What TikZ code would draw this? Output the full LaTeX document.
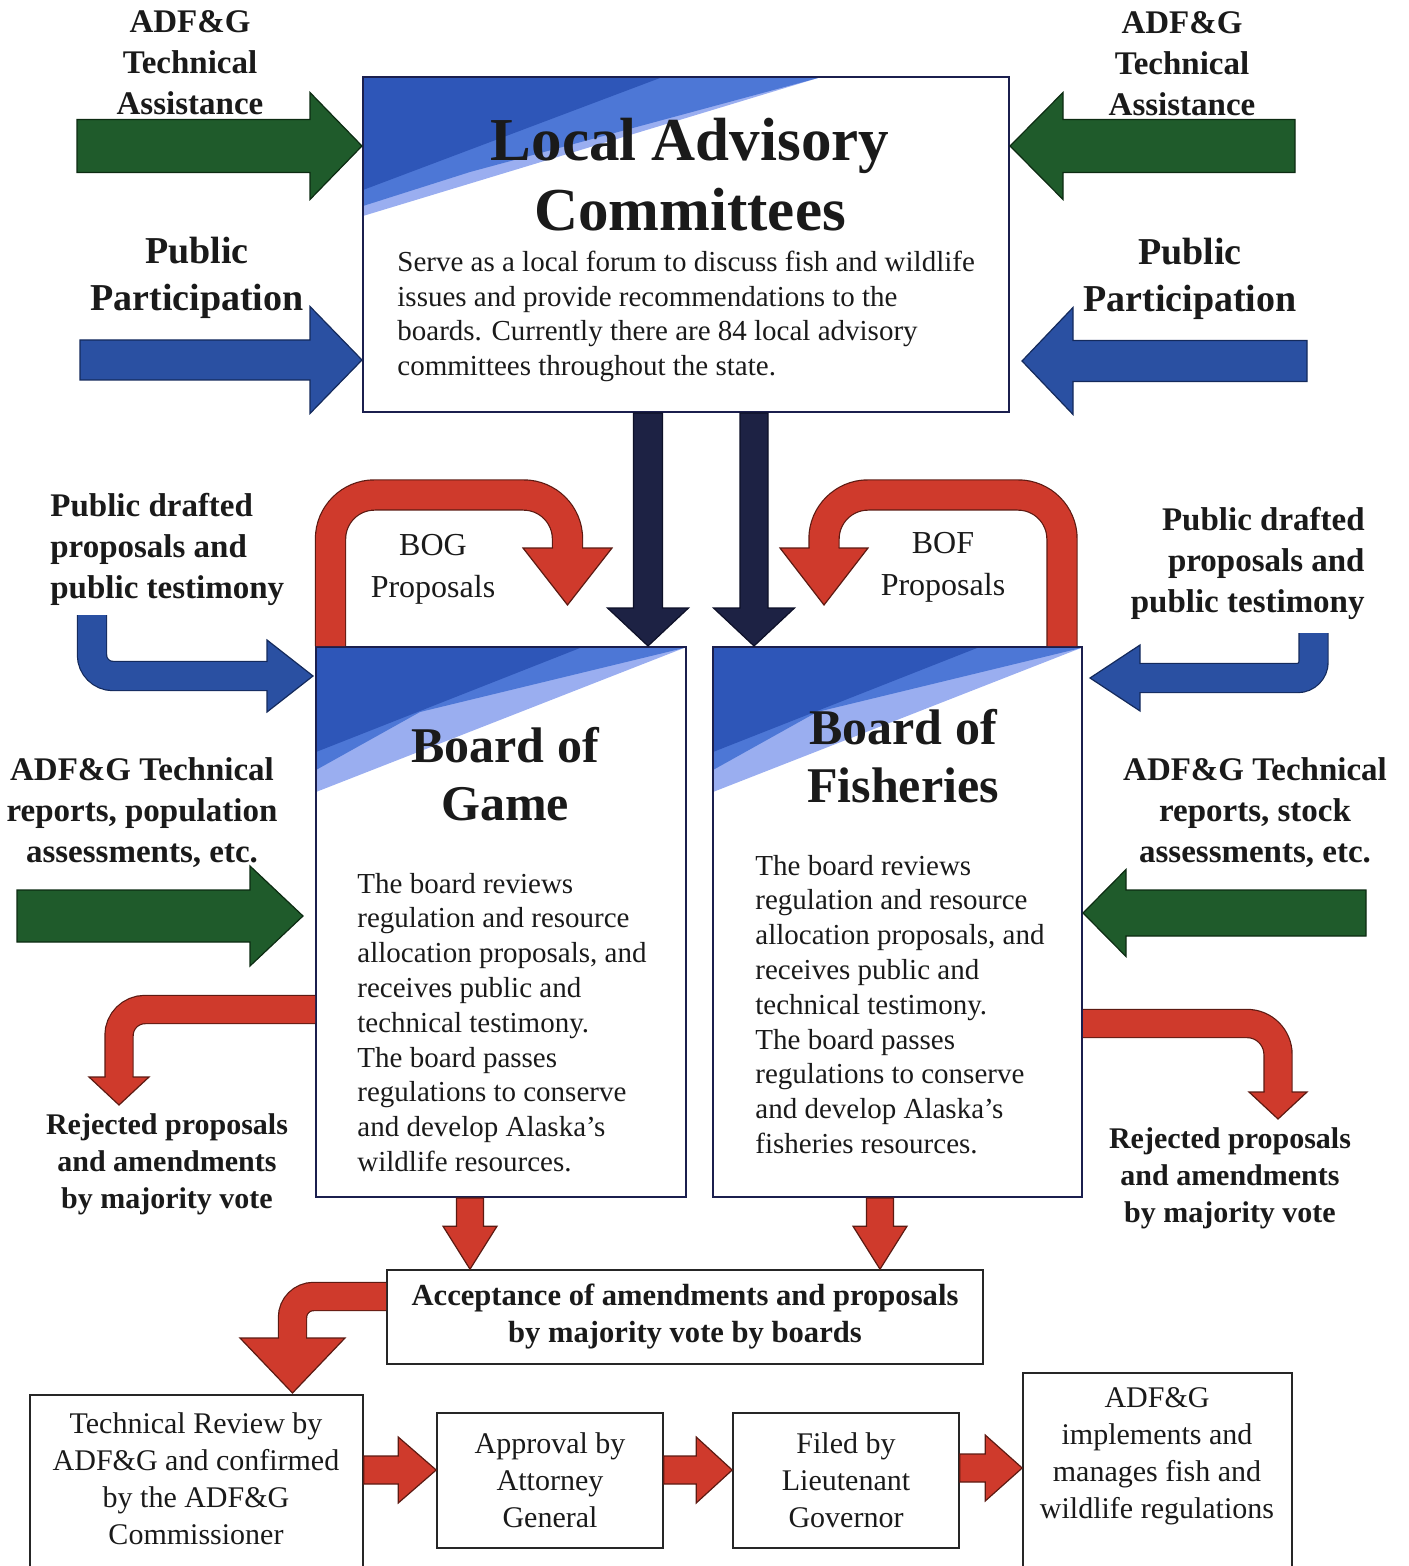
\documentclass[tikz,border=0pt]{standalone}
\usepackage{fontspec}
\setmainfont{Liberation Serif}
\usetikzlibrary{backgrounds,calc}

\definecolor{boxnavy}{HTML}{1B1F4E}
\definecolor{darknavy}{HTML}{1D2244}
\definecolor{darknavyline}{HTML}{0D1028}
\definecolor{fgreen}{HTML}{1F5B2B}
\definecolor{fgreenline}{HTML}{0C2B12}
\definecolor{fblue}{HTML}{2A50A2}
\definecolor{fblueline}{HTML}{142A5C}
\definecolor{fred}{HTML}{CF3A2C}
\definecolor{fredline}{HTML}{5C1A12}
\definecolor{swdark}{HTML}{2E56B8}
\definecolor{swmid}{HTML}{4D77D6}
\definecolor{swlight}{HTML}{9AAEF0}
\definecolor{ink}{HTML}{1A1A1A}

\begin{document}
\begin{tikzpicture}
		[x=0.5pt,y=-0.5pt,
		board/.style={draw=boxnavy,line width=1pt,inner sep=0pt},
		plainbox/.style={draw=black!85,line width=0.8pt,inner sep=0pt},
		heading/.style 2 args={font=\bfseries\fontsize{#1}{#2}\selectfont,align=center,inner sep=0pt,text=ink},
		body/.style={font=\fontsize{14.5}{17.4}\selectfont,align=left,inner sep=0pt,text=ink},
		side/.style={font=\bfseries\fontsize{16.5}{20.5}\selectfont,align=center,inner sep=0pt,text=ink},
		public/.style={font=\bfseries\fontsize{19}{23.5}\selectfont,align=center,inner sep=0pt,text=ink},
		prop/.style={font=\fontsize{16}{21}\selectfont,align=center,inner sep=0pt,text=ink},
		reject/.style={font=\bfseries\fontsize{15}{18.5}\selectfont,align=center,inner sep=0pt,text=ink},
		stage/.style={font=\fontsize{15}{18.5}\selectfont,align=center,inner sep=0pt,text=ink},
		greenarrow/.style={fill=fgreen,draw=fgreenline,line width=0.6pt},
		bluearrow/.style={fill=fblue,draw=fblueline,line width=0.6pt},
		navyarrow/.style={fill=darknavy,draw=darknavyline,line width=0.6pt},
		redarrow/.style={fill=fred,draw=fredline,line width=0.6pt},
		redband/.style={draw=fredline,double=fred,double distance=#1,line width=0.6pt},
		blueband/.style={draw=fblueline,double=fblue,double distance=#1,line width=0.6pt},
		hfat/.style n args={3}{to path={let \p1=(\tikztostart), \p2=(\tikztotarget),
			\p3=($(\tikztotarget)!#3!(\tikztostart)$) in
			(\x1,\y1+#1) -- (\x3,\y1+#1) -- (\x3,\y1+#2) -- (\x2,\y1)
			-- (\x3,\y1-#2) -- (\x3,\y1-#1) -- (\x1,\y1-#1) -- cycle}},
		vfat/.style n args={3}{to path={let \p1=(\tikztostart), \p2=(\tikztotarget),
			\p3=($(\tikztotarget)!#3!(\tikztostart)$) in
			(\x1-#1,\y1) -- (\x1-#1,\y3) -- (\x1-#2,\y3) -- (\x1,\y2)
			-- (\x1+#2,\y3) -- (\x1+#1,\y3) -- (\x1+#1,\y1) -- cycle}}]

		\useasboundingbox (0,0) rectangle (1408,1566);
		\clip (0,0) rectangle (1408,1566);

		\node[board,minimum width=323pt,minimum height=167.5pt] (lac) at (686,244.5) {};
		\node[board,minimum width=185pt,minimum height=275pt] (bog) at (501,922) {};
		\node[board,minimum width=184.5pt,minimum height=275pt] (bof) at (897.5,922) {};

		\node[heading={30.5}{35}] (lacTitle) at (690,175) {Local Advisory\\Committees};
		\node[body,anchor=west] (lacText) at (397,316.5) {Serve as a local forum to discuss fish and wildlife\\issues and provide recommendations to the\\boards. Currently there are 84 local advisory\\committees throughout the state.};

		\node[heading={25}{29}] (bogTitle) at (505,774) {Board of\\Game};
		\node[body,anchor=west] (bogText) at (357,1022.5) {The board reviews\\regulation and resource\\allocation proposals, and\\receives public and\\technical testimony.\\The board passes\\regulations to conserve\\and develop Alaska's\\wildlife resources.};

		\node[heading={25}{29}] (bofTitle) at (903,756) {Board of\\Fisheries};
		\node[body,anchor=west] (bofText) at (755,1004.5) {The board reviews\\regulation and resource\\allocation proposals, and\\receives public and\\technical testimony.\\The board passes\\regulations to conserve\\and develop Alaska's\\fisheries resources.};

		\node[plainbox,minimum width=298pt,minimum height=47pt,font=\bfseries\fontsize{15.3}{18.5}\selectfont,align=center,text=ink] (accept) at (685,1317) {Acceptance of amendments and proposals\\by majority vote by boards};
		\node[plainbox,minimum width=166.5pt,minimum height=92.5pt] (review) at (196.5,1487.5) {};
		\node[plainbox,stage,minimum width=113pt,minimum height=67.5pt] (approval) at (550,1480.5) {Approval by\\Attorney\\General};
		\node[plainbox,stage,minimum width=113pt,minimum height=67.5pt] (filed) at (846,1480.5) {Filed by\\Lieutenant\\Governor};
		\node[plainbox,minimum width=134.5pt,minimum height=103.5pt] (implement) at (1157.5,1476.5) {};
		\node[stage] (reviewText) at (196,1479) {Technical Review by\\ADF\&G and confirmed\\by the ADF\&G\\Commissioner};
		\node[stage] (implementText) at (1157,1456) {ADF\&G\\implements and\\manages fish and\\wildlife regulations};

		\node[side] (techL) at (190,63) {ADF\&G\\Technical\\Assistance};
		\node[side] (techR) at (1182,64) {ADF\&G\\Technical\\Assistance};
		\node[public] (pubL) at (197,278) {Public\\Participation};
		\node[public] (pubR) at (1190,279) {Public\\Participation};
		\node[side,align=left,anchor=west] (draftL) at (50,549) {Public drafted\\proposals and\\public testimony};
		\node[side,align=right,anchor=east] (draftR) at (1365,563) {Public drafted\\proposals and\\public testimony};
		\node[side] (reportL) at (142,813) {ADF\&G Technical\\reports, population\\assessments, etc.};
		\node[side] (reportR) at (1255,813) {ADF\&G Technical\\reports, stock\\assessments, etc.};
		\node[prop] (bogProp) at (433,569) {BOG\\Proposals};
		\node[prop] (bofProp) at (943,567) {BOF\\Proposals};
		\node[reject] (rejectL) at (167,1164) {Rejected proposals\\and amendments\\by majority vote};
		\node[reject] (rejectR) at (1230,1178) {Rejected proposals\\and amendments\\by majority vote};

		\begin{pgfonlayer}{background}
			\fill[swlight] (363,78) -- (818,78) -- (363,216) -- cycle;
			\fill[swmid] (363,78) -- (818,78) -- (470,172) -- (363,206) -- cycle;
			\fill[swdark] (363,78) -- (660,78) -- (363,190) -- cycle;
			\fill[swlight] (316,648) -- (684,648) -- (316,792) -- cycle;
			\fill[swmid] (316,648) -- (684,648) -- (420,712) -- (316,770) -- cycle;
			\fill[swdark] (316,648) -- (580,648) -- (316,752) -- cycle;
			\fill[swlight] (713,648) -- (1081,648) -- (713,792) -- cycle;
			\fill[swmid] (713,648) -- (1081,648) -- (817,712) -- (713,770) -- cycle;
			\fill[swdark] (713,648) -- (977,648) -- (713,752) -- cycle;
		\end{pgfonlayer}

		\coordinate (gTL) at (77,146);
		\coordinate (gTR) at (1295,146);
		\coordinate (bTL) at (80,360);
		\coordinate (bTR) at (1307,361);
		\coordinate (bTRtip) at (1022,361);
		\coordinate (gML) at (17,916);
		\coordinate (gMLtip) at (303,916);
		\coordinate (gMR) at (1366,913);

		\draw[greenarrow,hfat={13.25pt}{26.75pt}{26pt}] (gTL) to (lac.west |- gTL);
		\draw[greenarrow,hfat={13.25pt}{26.75pt}{26.5pt}] (gTR) to (lac.east |- gTR);
		\draw[bluearrow,hfat={10pt}{26.75pt}{26pt}] (bTL) to (lac.west |- bTL);
		\draw[bluearrow,hfat={10.25pt}{26.75pt}{25.5pt}] (bTR) to (bTRtip);
		\draw[greenarrow,hfat={13pt}{25pt}{26.5pt}] (gML) to (gMLtip);
		\draw[greenarrow,hfat={11.5pt}{21.75pt}{21.5pt}] (gMR) to (bof.east |- gMR);

		\draw[navyarrow,vfat={7.25pt}{20.25pt}{19pt}] (lac.south -| 648,0) to (bog.north -| 648,0);
		\draw[navyarrow,vfat={7pt}{20.25pt}{19pt}] (lac.south -| 754,0) to (bof.north -| 754,0);

		\draw[redarrow,vfat={6.75pt}{13.5pt}{21.5pt}] (bog.south -| 470,0) to (accept.north -| 470,0);
		\draw[redarrow,vfat={6.75pt}{13.5pt}{21.5pt}] (bof.south -| 880,0) to (accept.north -| 880,0);
		\draw[redarrow,hfat={7pt}{16.5pt}{19pt}] (review.east |- 0,1470) to (approval.west |- 0,1470);
		\draw[redarrow,hfat={7pt}{16.5pt}{18pt}] (approval.east |- 0,1470) to (filed.west |- 0,1470);
		\draw[redarrow,hfat={7pt}{16.5pt}{18.5pt}] (filed.east |- 0,1468) to (implement.west |- 0,1468);

		% proposals back to the boards
		\draw[redband=14.5pt,rounded corners=22pt] (bog.north -| 330.5,0) -- (330.5,495) -- (567.5,495) -- (567.5,552);
		\filldraw[redarrow] (553,548) -- (523,548) -- (567.5,605) -- (612,548) -- (582,548);
		\draw[redband=14.5pt,rounded corners=22pt] (bof.north -| 1062,0) -- (1062,495) -- (824,495) -- (824,552);
		\filldraw[redarrow] (809.5,548) -- (780,548) -- (824,605) -- (868,548) -- (838.5,548);

		\draw[blueband=14pt,rounded corners=10.5pt] (92,615) -- (92,676) -- (270,676);
		\filldraw[bluearrow] (267,662) -- (267,640) -- (313,676) -- (267,712) -- (267,690);
		\draw[blueband=14pt,rounded corners=8pt] (1313.5,633) -- (1313.5,678) -- (1137,678);
		\filldraw[bluearrow] (1140,664) -- (1140,645) -- (1090,678) -- (1140,711) -- (1140,692);

		% rejected and accepted
		\draw[redband=13.5pt,rounded corners=13pt] (bog.west |- 0,1009.5) -- (119,1009.5) -- (119,1080);
		\filldraw[redarrow] (105.5,1077) -- (89,1077) -- (119,1105) -- (149,1077) -- (132.5,1077);
		\draw[redband=13.5pt,rounded corners=15.5pt] (bof.east |- 0,1023.5) -- (1278,1023.5) -- (1278,1095);
		\filldraw[redarrow] (1291.5,1092) -- (1307,1092) -- (1278,1119) -- (1249,1092) -- (1264.5,1092);
		\draw[redband=13.5pt,rounded corners=10.5pt] (accept.west |- 0,1296.5) -- (292.5,1296.5) -- (292.5,1341);
		\filldraw[redarrow] (279,1338) -- (240,1338) -- (292.5,1393) -- (345,1338) -- (306,1338);

	\end{tikzpicture}
\end{document}
